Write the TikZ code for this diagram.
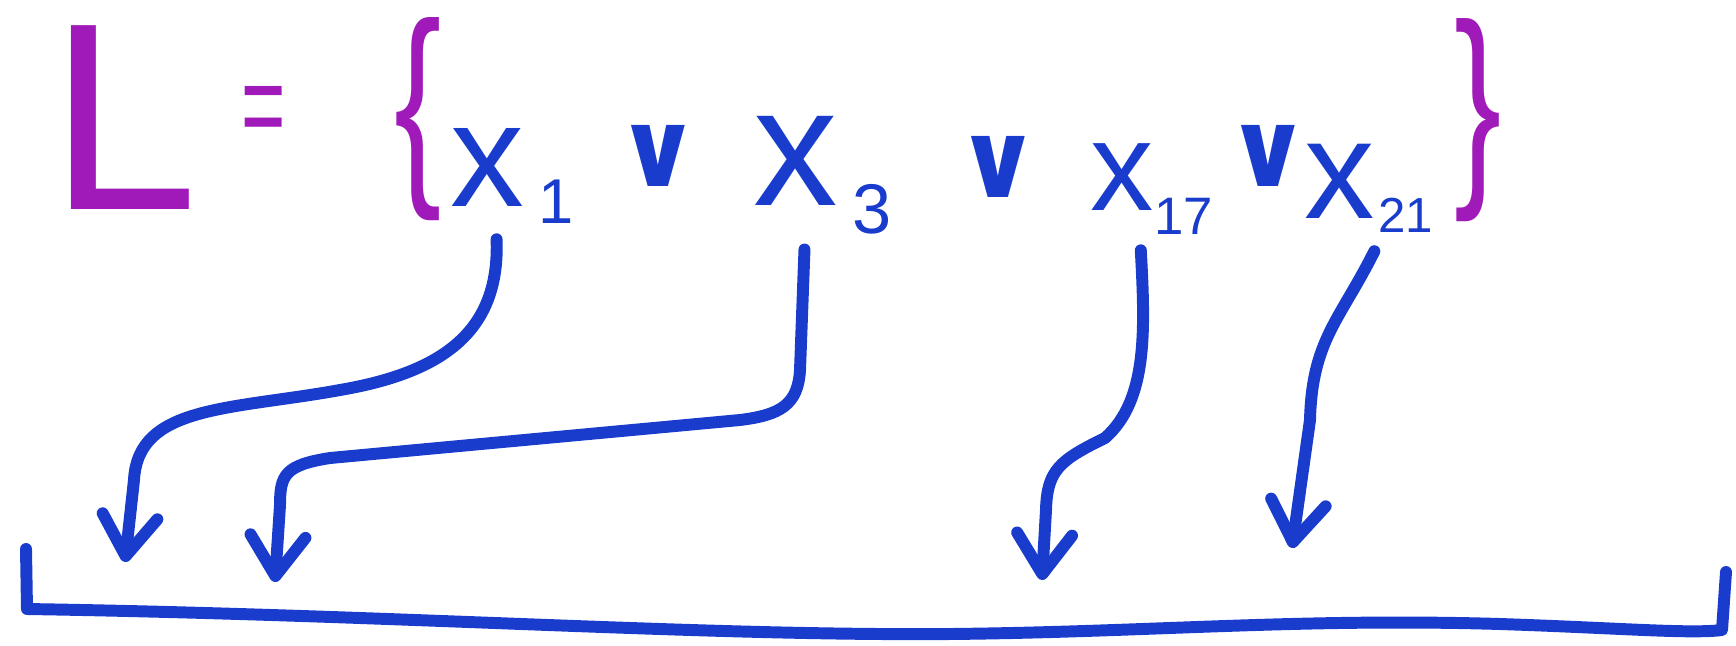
\documentclass[tikz,border=0pt]{standalone}
\usepackage{fontspec}
\setmainfont{Liberation Sans}
\newfontfamily\orfont{DejaVu Sans}
\usetikzlibrary{arrows.meta}
\definecolor{penmagenta}{RGB}{160,25,185}
\definecolor{penblue}{RGB}{25,60,205}
\newcommand{\pensize}[1]{\fontsize{#1}{#1}\selectfont}
% x with a lowered index: size, index size, index, gap, drop
\newcommand{\lit}[5]{\pensize{#1}x\hspace{#4}\raisebox{-#5}{\pensize{#2}#3}}

\begin{document}
\begin{tikzpicture}[x=.01cm,y=-.01cm,
  setpart/.style={text=penmagenta,inner sep=0pt},
  litpart/.style={text=penblue,inner sep=0pt,anchor=base west},
  orpart/.style={text=penblue,inner sep=0pt,font=\orfont\bfseries\pensize{30}},
  pen/.style={draw=penblue,line width=3.4pt,line cap=round,line join=round},
  link/.style={pen,-{Straight Barb[length=4mm,width=5.5mm,round]},shorten <=1.5mm}]
\useasboundingbox (0,0) rectangle (1736,645);
% the clause
\node[setpart,font=\pensize{76}] (L) at (124,118) {L};
\node[setpart,font=\pensize{36}] (eq) at (264,117) {\scalebox{.6}[1]{=}};
\node[setpart,font=\pensize{62}] (lb) at (418,119) {\scalebox{.65}[1]{\{}};
\node[litpart] (x1) at (450,206) {\lit{42}{18}{1}{4pt}{5pt}};
\node[orpart] (or1) at (658,156) {∨};
\node[litpart] (x3) at (753,205) {\lit{48}{20}{3}{4pt}{8pt}};
\node[orpart] (or2) at (998,167) {∨};
\node[litpart] (x17) at (1090,210) {\lit{36}{15}{17}{0pt}{7pt}};
\node[orpart] (or3) at (1268,156) {∨};
\node[litpart] (x21) at (1304,218) {\lit{40}{14}{21}{1pt}{4pt}};
\node[setpart,font=\pensize{62}] (rb) at (1478,120) {\scalebox{.65}[1]{\}}};
% where the literals go
\coordinate (t1) at (125,562);
\coordinate (t3) at (275,582);
\coordinate (t17) at (1042,580);
\coordinate (t21) at (1292,548);
\draw[link] ([xshift=4.6mm]x1.south west) .. controls (500,330) and (445,372) .. (340,390)
  .. controls (230,410) and (138,405) .. (134,480) -- (t1);
\draw[link] ([xshift=5.2mm]x3.south west) -- (800,370) .. controls (798,405) and (780,415) .. (740,420)
  -- (330,458) .. controls (285,465) and (280,475) .. (280,505) -- (t3);
\draw[link] ([xshift=5mm]x17.south west) .. controls (1145,330) and (1148,400) .. (1105,438)
  .. controls (1060,460) and (1047,470) .. (1046,510) -- (t17);
\draw[link] ([xshift=7.7mm,yshift=-.5mm]x21.south west) .. controls (1340,320) and (1312,340) .. (1310,420) -- (t21);
% the array
\draw[pen] (26,549) -- (27,609) .. controls (400,615) and (700,636) .. (950,634)
  .. controls (1150,632) and (1300,618) .. (1500,624) .. controls (1620,628) and (1690,634) .. (1722,630) -- (1726,572);
\end{tikzpicture}
\end{document}
